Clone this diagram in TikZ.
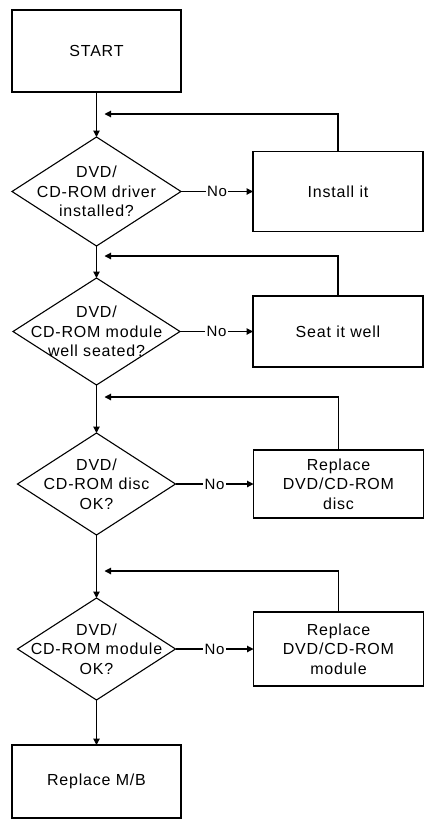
\documentclass[tikz,border=0pt]{standalone}
\usepackage{fontspec}
\setmainfont[LetterSpace=5]{Liberation Sans}
\usetikzlibrary{arrows.meta,shapes.geometric,positioning}

\tikzset{
  flow/.style={line width=1.1pt},
  box/.style={draw, flow, outer sep=0pt, minimum width=169pt, align=center, font=\fontsize{16}{19.5}\selectfont},
  decision/.style={diamond, draw, flow, outer sep=0pt, inner sep=0pt},
  dtext/.style={align=center, font=\fontsize{16}{19.5}\selectfont},
  nolabel/.style={fill=white, inner sep=1.5pt, font=\fontsize{15}{18}\selectfont},
  >={Triangle[length=6.5pt,width=6.5pt]}
}

\begin{document}
\begin{tikzpicture}[x=1pt, y=-1pt]
        \useasboundingbox (0,0) rectangle (429,820);

        \node (start) [box, minimum height=82pt] at (96.5,51) {START};
        \node (drv) [decision, minimum width=169pt, minimum height=109pt, below=45pt of start,
          label={[dtext]center:DVD/\\CD-ROM driver\\installed?}] {};
        \node (mod) [decision, minimum width=167pt, minimum height=107pt, below=32pt of drv,
          label={[dtext]center:DVD/\\CD-ROM module\\well seated?}] {};
        \node (disc) [decision, minimum width=158pt, minimum height=102pt, below=48pt of mod,
          label={[dtext]center:DVD/\\CD-ROM disc\\OK?}] {};
        \node (modok) [decision, minimum width=158pt, minimum height=102pt, below=63pt of disc,
          label={[dtext]center:DVD/\\CD-ROM module\\OK?}] {};
        \node (mb) [box, minimum height=73pt, below=45pt of modok] {Replace M/B};

        \node (install) [box, minimum width=170pt, minimum height=80pt, right=72pt of drv] {Install it};
        \node (seat) [box, minimum width=170pt, minimum height=71pt, right=73pt of mod] {Seat it well};
        \node (newdisc) [box, minimum width=170pt, minimum height=68pt, right=78pt of disc] {Replace\\DVD/CD-ROM\\disc};
        \node (newmod) [box, minimum width=170pt, minimum height=74pt, right=78pt of modok] {Replace\\DVD/CD-ROM\\module};

        \coordinate (ret1) at ([xshift=8pt,yshift=23pt]drv.north);
        \coordinate (ret2) at ([xshift=8pt,yshift=22pt]mod.north);
        \coordinate (ret3) at ([xshift=8pt,yshift=36pt]disc.north);
        \coordinate (ret4) at ([xshift=8pt,yshift=27pt]modok.north);

        % main column
        \draw[flow,->] (start) -- (drv);
        \draw[flow,->] (drv) -- (mod);
        \draw[flow,->] (mod) -- (disc);
        \draw[flow,->] (disc) -- (modok);
        \draw[flow,->] (modok) -- (mb);

        % no branches
        \draw[flow,->] (drv) -- node[nolabel] {No} (install);
        \draw[flow,->] (mod) -- node[nolabel] {No} (seat);
        \draw[flow,->] (disc) -- node[nolabel] {No} (newdisc);
        \draw[flow,->] (modok) -- node[nolabel] {No} (newmod);

        % back to the check
        \draw[flow,->] (install.north) |- (ret1);
        \draw[flow,->] (seat.north) |- (ret2);
        \draw[flow,->] (newdisc.north) |- (ret3);
        \draw[flow,->] (newmod.north) |- (ret4);
\end{tikzpicture}
\end{document}
